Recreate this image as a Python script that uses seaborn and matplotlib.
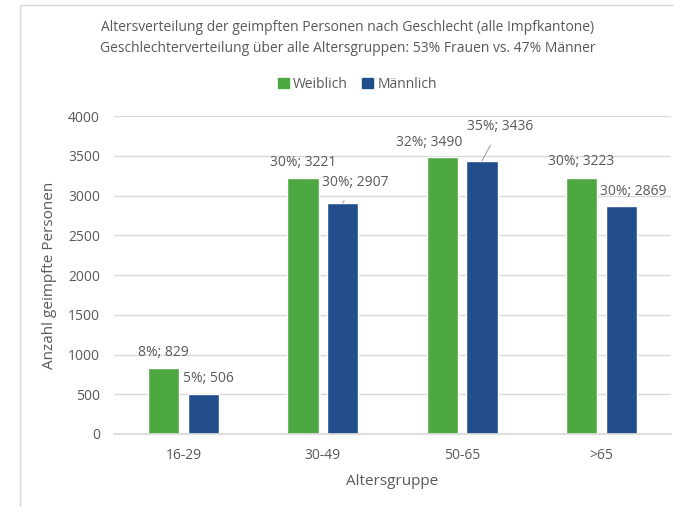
import matplotlib
matplotlib.use("Agg")
import matplotlib.pyplot as plt
import seaborn as sns
import pandas as pd
from matplotlib.lines import Line2D

# Data
age_groups = ["16-29", "30-49", "50-65", ">65"]
weiblich = [829, 3221, 3490, 3223]
maennlich = [506, 2907, 3436, 2869]
weiblich_pct = [8, 30, 32, 30]
maennlich_pct = [5, 30, 35, 30]
genders = ["Weiblich", "Männlich"]
colors = ["#4ea842", "#224e8c"]
grey = "#595959"

# label offsets (pixels from bar top centre), leader line yes/no
w_offsets = [(0, 16), (0, 16), (-13, 14), (0, 16)]
m_offsets = [(5, 15), (13, 20), (18, 34), (12, 14)]
m_leader = [False, True, True, False]

df = pd.DataFrame({
    "Altersgruppe": age_groups * 2,
    "Geschlecht": [genders[0]] * 4 + [genders[1]] * 4,
    "Anzahl": weiblich + maennlich,
})

sns.set_theme(style="white")
plt.rcParams["font.family"] = ["Open Sans", "DejaVu Sans"]

fig = plt.figure(figsize=(6.74, 5.07), dpi=100)
ax = fig.add_axes([114 / 674, 0.144, 557 / 674, 0.627])

sns.barplot(data=df, x="Altersgruppe", y="Anzahl", hue="Geschlecht",
            palette=colors, saturation=1, width=0.57, gap=0.21, ax=ax, legend=False)

ax.set_ylim(0, 4000)
ax.set_xlim(-0.5, 3.5)
ax.set_yticks(range(0, 4001, 500))
ax.yaxis.grid(True, color="#d9d9d9", linewidth=1)
ax.set_axisbelow(True)
for s in ["top", "right", "left"]:
    ax.spines[s].set_visible(False)
ax.spines["bottom"].set_color("#d9d9d9")
ax.tick_params(axis="both", colors=grey, labelsize=10, length=0, pad=10)
ax.set_xlabel("Altersgruppe", color=grey, fontsize=11, labelpad=8)
ax.set_ylabel("Anzahl geimpfte Personen", color=grey, fontsize=11, labelpad=8)

# data labels
def put_labels(container, values, pcts, offsets, leaders):
    for bar, v, p, off, lead in zip(container, values, pcts, offsets, leaders):
        bx = bar.get_x() + bar.get_width() / 2
        props = None
        if lead:
            props = dict(arrowstyle="-", color="#a6a6a6", lw=0.8, shrinkA=6, shrinkB=0)
        ax.annotate(f"{p}%; {v}", xy=(bx, v), xytext=off, textcoords="offset pixels",
                    ha="center", va="center", color=grey, fontsize=10,
                    annotation_clip=False, arrowprops=props)

put_labels(ax.containers[0], weiblich, weiblich_pct, w_offsets, [False] * 4)
put_labels(ax.containers[1], maennlich, maennlich_pct, m_offsets, m_leader)

# title and legend
fig.text(0.516, 0.945, "Altersverteilung der geimpften Personen nach Geschlecht (alle Impfkantone)",
         ha="center", va="center", color=grey, fontsize=10)
fig.text(0.516, 0.905, "Geschlechterverteilung über alle Altersgruppen: 53% Frauen vs. 47% Männer",
         ha="center", va="center", color=grey, fontsize=10)
handles = [plt.Rectangle((0, 0), 1, 1, color=c) for c in colors]
fig.legend(handles, genders, loc="center", bbox_to_anchor=(0.53, 0.834), ncol=2, frameon=False,
           fontsize=10, labelcolor=grey, handlelength=0.8, handleheight=0.8, handletextpad=0.3,
           columnspacing=1.0)

# chart border
fig.add_artist(Line2D([20 / 674, 20 / 674], [0, 1 - 5 / 507], color="#d9d9d9", lw=1))
fig.add_artist(Line2D([20 / 674, 1], [1 - 5 / 507, 1 - 5 / 507], color="#d9d9d9", lw=1))

fig.savefig("out.png", dpi=100, facecolor="white")
